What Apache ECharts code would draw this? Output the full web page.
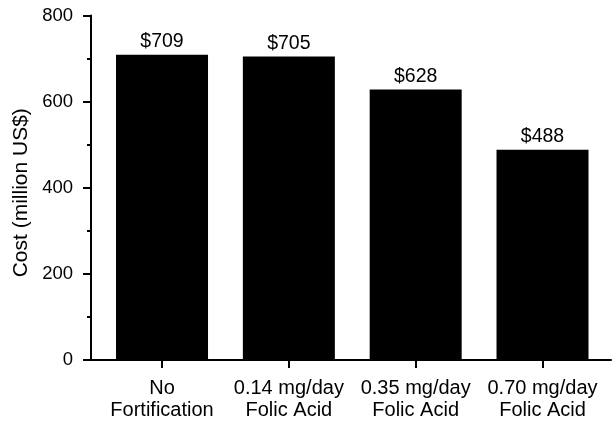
<!DOCTYPE html>
<html>
<head>
<meta charset="utf-8">
<script src="https://cdn.jsdelivr.net/npm/echarts@6/dist/echarts.min.js"></script>
<style>html,body{margin:0;padding:0;background:#fff;}#c{width:612px;height:421px;}</style>
</head>
<body>
<div id="c"></div>
<script>
var categories = ['No\nFortification', '0.14 mg/day\nFolic Acid', '0.35 mg/day\nFolic Acid', '0.70 mg/day\nFolic Acid'];
var costs = [709, 705, 628, 488];
var yTicks = [0, 200, 400, 600, 800];

var FONT = '"Liberation Sans", Arial, Helvetica, sans-serif';
var chart = echarts.init(document.getElementById('c'), null, {renderer: 'canvas'});
var positions = categories.map(function (c, i) { return i; });
chart.setOption({
  animation: false,
  backgroundColor: '#fff',
  grid: {left: 91, right: 1, top: 15.5, bottom: 58.5, containLabel: false},
  xAxis: {
    type: 'value',
    min: -0.56,
    max: 3.54,
    axisLine: {show: true, onZero: false, lineStyle: {color: '#000', width: 2}},
    axisTick: {show: true, customValues: positions, length: 8, lineStyle: {color: '#000', width: 2}},
    axisLabel: {
      show: true, customValues: positions, color: '#000', fontFamily: FONT, fontSize: 20,
      lineHeight: 22, margin: 17,
      formatter: function (v) { return categories[Math.round(v)]; }
    },
    splitLine: {show: false}
  },
  yAxis: {
    type: 'value',
    min: 0,
    max: 800,
    interval: 200,
    name: 'Cost (million US$)',
    nameLocation: 'middle',
    nameGap: 53,
    nameTextStyle: {color: '#000', fontFamily: FONT, fontSize: 21, padding: [0, 10, 0, 0]},
    axisLine: {show: true, onZero: false, lineStyle: {color: '#000', width: 2}},
    axisTick: {show: true, length: 8, lineStyle: {color: '#000', width: 2}},
    minorTick: {show: true, splitNumber: 2, length: 4, lineStyle: {color: '#000', width: 2}},
    axisLabel: {color: '#000', fontFamily: FONT, fontSize: 18.5, margin: 18,
      formatter: function (v) { return yTicks.indexOf(v) >= 0 ? String(v) : ''; }},
    splitLine: {show: false}
  },
  series: [{
    type: 'bar',
    barWidth: 92,
    data: costs.map(function (v, i) { return [positions[i], v]; }),
    itemStyle: {color: '#000'},
    label: {
      show: true, position: 'top', distance: 3, color: '#000', fontFamily: FONT, fontSize: 19.5,
      formatter: function (p) { return '$' + p.value[1]; }
    }
  }]
});
</script>
</body>
</html>
